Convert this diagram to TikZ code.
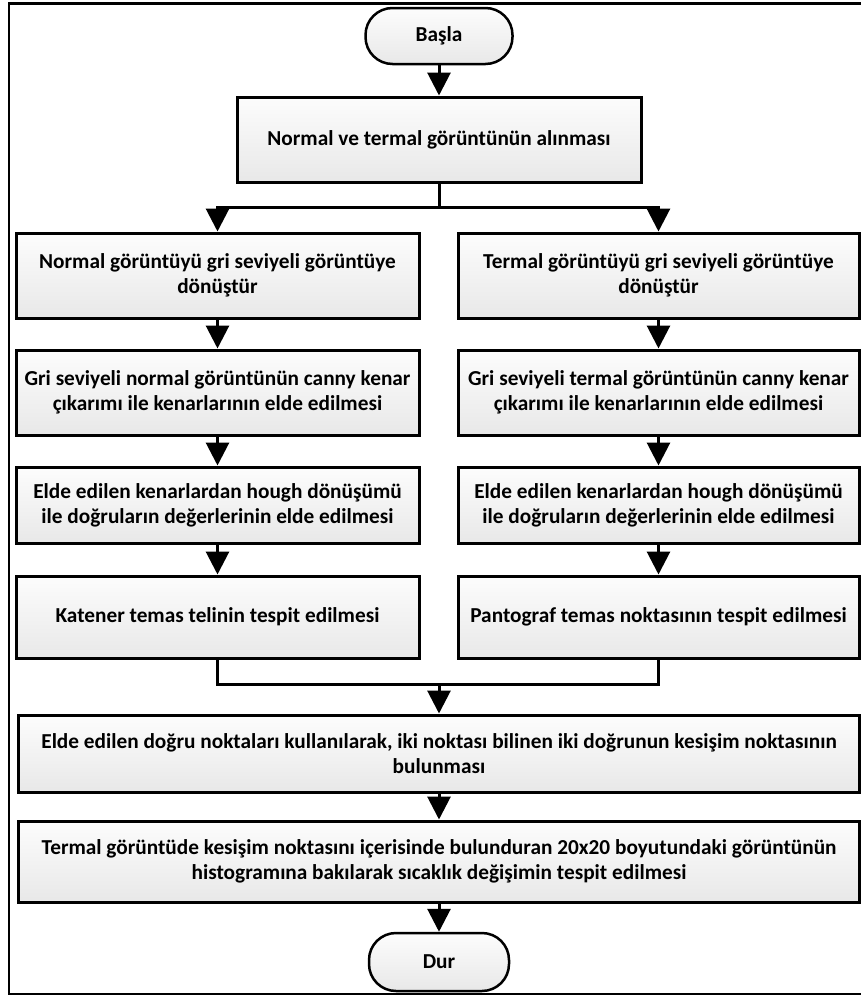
\documentclass[tikz,border=0pt]{standalone}
\usepackage{fontspec}
\setmainfont{Carlito}
\usepackage{tikz}
\usetikzlibrary{arrows.meta,positioning,calc}
\tikzset{
  procbox/.style={draw, line width=3pt, top color=white!99!black, bottom color=white!91!black,
    align=center, inner sep=0pt, font=\bfseries\fontsize{21.3}{25}\selectfont},
  termbox/.style={procbox, line width=2.5pt, rounded corners=27pt}
}

\begin{document}
\begin{tikzpicture}[x=1pt, y=-1pt, ->, >={Triangle[length=23pt,width=23pt]},
     line width=3pt, line join=miter]
    \useasboundingbox (0,0) rectangle (860,996);
    \draw[-, line width=2.5pt] (880,3.5) -- (9,3.5) -- (9,994) -- (880,994);
    \node[termbox, minimum width=147pt, minimum height=56pt] (start) at (439, 36) {Başla};
    \node[procbox, minimum width=404pt, minimum height=85pt] (acq) at (439, 139.5) {Normal ve termal görüntünün alınması};
    \node[procbox, minimum width=403pt, minimum height=85pt] (l1) at (217.5, 275.5) {Normal görüntüyü gri seviyeli görüntüye\\dönüştür};
    \node[procbox, minimum width=403pt, minimum height=85pt] (l2) at (217.5, 392.5) {Gri seviyeli normal görüntünün canny kenar\\çıkarımı ile kenarlarının elde edilmesi};
    \node[procbox, minimum width=403pt, minimum height=76pt] (l3) at (217.5, 505) {Elde edilen kenarlardan hough dönüşümü\\ile doğruların değerlerinin elde edilmesi};
    \node[procbox, minimum width=403pt, minimum height=82pt] (l4) at (217.5, 617) {Katener temas telinin tespit edilmesi};
    \node[procbox, minimum width=401pt, minimum height=85pt] (r1) at (658.5, 275.5) {Termal görüntüyü gri seviyeli görüntüye\\dönüştür};
    \node[procbox, minimum width=401pt, minimum height=85pt] (r2) at (658.5, 392.5) {Gri seviyeli termal görüntünün canny kenar\\çıkarımı ile kenarlarının elde edilmesi};
    \node[procbox, minimum width=401pt, minimum height=76pt] (r3) at (658.5, 505) {Elde edilen kenarlardan hough dönüşümü\\ile doğruların değerlerinin elde edilmesi};
    \node[procbox, minimum width=401pt, minimum height=82pt] (r4) at (658.5, 617) {Pantograf temas noktasının tespit edilmesi};
    \node[procbox, minimum width=841pt, minimum height=77pt] (cross) at (439, 753.5) {Elde edilen doğru noktaları kullanılarak, iki noktası bilinen iki doğrunun kesişim noktasının\\bulunması};
    \node[procbox, minimum width=841pt, minimum height=81pt] (hist) at (439, 861.5) {Termal görüntüde kesişim noktasını içerisinde bulunduran 20x20 boyutundaki görüntünün\\histogramına bakılarak sıcaklık değişimin tespit edilmesi};
    \node[termbox, minimum width=140pt, minimum height=58pt] (stop) at (439, 962) {Dur};
    \coordinate (split) at (439, 207);
    \coordinate (merge) at (439, 684);
    \path (start) edge (acq);
    \draw[-] (acq) -- (split);
    \draw (split) -| (l1);
    \draw (split) -| (r1);
    \path (l1) edge (l2) (l2) edge (l3) (l3) edge (l4);
    \path (r1) edge (r2) (r2) edge (r3) (r3) edge (r4);
    \draw[-] (l4) |- (merge);
    \draw[-] (r4) |- (merge);
    \path (merge) edge (cross) (cross) edge (hist) (hist) edge (stop);
\end{tikzpicture}
\end{document}
